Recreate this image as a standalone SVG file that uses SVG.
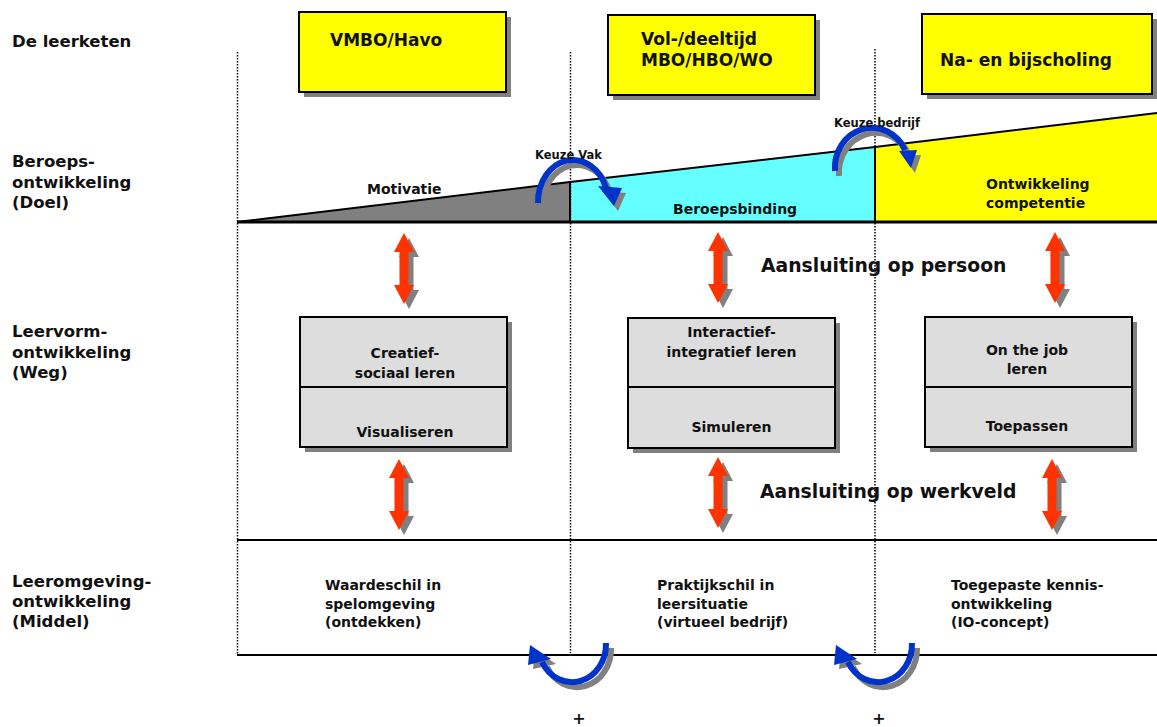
<svg xmlns="http://www.w3.org/2000/svg" xmlns:xlink="http://www.w3.org/1999/xlink" width="1157" height="727" viewBox="0 0 1157 727">
<style>
text{font-family:"DejaVu Sans","Liberation Sans",sans-serif;font-weight:bold;fill:#111}
.lbl{font-size:16.5px}
.top{font-size:17px}
.t14{font-size:14px}
.plus{font-size:16px}
.small{font-size:11.5px}
.big{font-size:18.8px}
.mid{text-anchor:middle}
.ybox{fill:#FFFF00;stroke:#000;stroke-width:2}
.gbox{fill:#DDDDDD;stroke:#000;stroke-width:2}
.shadow{fill:#808080}
.dot{stroke:#000;stroke-width:1.5;stroke-dasharray:1.5 1.5;fill:none}
.red{fill:#FF3300}
.barc{fill:none;stroke:#0033CC;stroke-width:6}
.sarc{fill:none;stroke:#808080;stroke-width:6}
.bhead{fill:#0033CC}
</style>
<defs>
<path id="dbl" d="M0,0 L10,19 L4.5,19 L4.5,52 L10,52 L0,71 L-10,52 L-4.5,52 L-4.5,19 L-10,19 Z"/>
</defs>
<rect width="1157" height="727" fill="#fff"/>

<g id="row-labels">
<text class="lbl" x="12" y="47">De leerketen</text>
<text class="lbl" x="12" y="167">Beroeps-</text>
<text class="lbl" x="12" y="188">ontwikkeling</text>
<text class="lbl" x="12" y="208">(Doel)</text>
<text class="lbl" x="12" y="337">Leervorm-</text>
<text class="lbl" x="12" y="357.5">ontwikkeling</text>
<text class="lbl" x="12" y="378">(Weg)</text>
<text class="lbl" x="12" y="587">Leeromgeving-</text>
<text class="lbl" x="12" y="607">ontwikkeling</text>
<text class="lbl" x="12" y="627">(Middel)</text>
</g>

<g id="band">
<polygon points="237,222 570,182 570,222" fill="#808080"/>
<polygon points="570,182 875,147 875,222 570,222" fill="#66FFFF"/>
<polygon points="875,147 1157,113 1157,222 875,222" fill="#FFFF00"/>
<polyline points="237,222 570,182 875,147 1157,113" fill="none" stroke="#000" stroke-width="2"/>
<line x1="570" y1="182" x2="570" y2="222" stroke="#000" stroke-width="2"/>
<line x1="875" y1="147" x2="875" y2="222" stroke="#000" stroke-width="2"/>
<line x1="237" y1="222" x2="1157" y2="222" stroke="#000" stroke-width="3"/>
<text class="t14" x="367" y="194">Motivatie</text>
<text class="t14" x="673" y="214">Beroepsbinding</text>
<text class="t14" x="986" y="189">Ontwikkeling</text>
<text class="t14" x="986" y="208">competentie</text>
</g>

<g id="bottom-box">
<line x1="237" y1="540" x2="1157" y2="540" stroke="#000" stroke-width="2"/>
<line x1="237" y1="655" x2="1157" y2="655" stroke="#000" stroke-width="2"/>
<text class="t14" x="325" y="590">Waardeschil in</text>
<text class="t14" x="325" y="609">spelomgeving</text>
<text class="t14" x="325" y="627">(ontdekken)</text>
<text class="t14" x="657" y="590">Praktijkschil in</text>
<text class="t14" x="657" y="609">leersituatie</text>
<text class="t14" x="657" y="627">(virtueel bedrijf)</text>
<text class="t14" x="951" y="590">Toegepaste kennis-</text>
<text class="t14" x="951" y="609">ontwikkeling</text>
<text class="t14" x="951" y="627">(IO-concept)</text>
</g>

<g id="dividers">
<line class="dot" x1="237.5" y1="52" x2="237.5" y2="655"/>
<line class="dot" x1="570.5" y1="52" x2="570.5" y2="653"/>
<line class="dot" x1="875" y1="49" x2="875" y2="653"/>
</g>

<g id="box-vmbo">
<rect class="shadow" x="304" y="17" width="207" height="80"/>
<rect class="ybox" x="299" y="12" width="207" height="80"/>
<text class="top" x="330" y="46">VMBO/Havo</text>
</g>
<g id="box-vol">
<rect class="shadow" x="613" y="20" width="207" height="80"/>
<rect class="ybox" x="608" y="15" width="207" height="80"/>
<text class="top" x="641" y="45">Vol-/deeltijd</text>
<text class="top" x="641" y="66">MBO/HBO/WO</text>
</g>
<g id="box-na">
<rect class="shadow" x="927" y="19" width="230" height="80"/>
<rect class="ybox" x="922" y="14" width="230" height="80"/>
<text class="top" x="940" y="66">Na- en bijscholing</text>
</g>

<g id="box-creatief">
<rect class="shadow" x="305" y="322" width="207" height="130"/>
<rect class="gbox" x="300" y="317" width="207" height="130"/>
<line x1="300" y1="387" x2="507" y2="387" stroke="#000" stroke-width="2"/>
<text class="t14 mid" x="405" y="358">Creatief-</text>
<text class="t14 mid" x="405" y="378">sociaal leren</text>
<text class="t14 mid" x="405" y="437">Visualiseren</text>
</g>
<g id="box-interactief">
<rect class="shadow" x="633" y="323" width="207" height="130"/>
<rect class="gbox" x="628" y="318" width="207" height="130"/>
<line x1="627" y1="387" x2="835" y2="387" stroke="#000" stroke-width="2"/>
<text class="t14 mid" x="731.5" y="337">Interactief-</text>
<text class="t14 mid" x="731.5" y="356.5">integratief leren</text>
<text class="t14 mid" x="731.5" y="432">Simuleren</text>
</g>
<g id="box-onthejob">
<rect class="shadow" x="930" y="322" width="207" height="130"/>
<rect class="gbox" x="925" y="317" width="207" height="130"/>
<line x1="925" y1="387" x2="1132" y2="387" stroke="#000" stroke-width="2"/>
<text class="t14 mid" x="1027" y="355">On the job</text>
<text class="t14 mid" x="1027" y="374">leren</text>
<text class="t14 mid" x="1027" y="431">Toepassen</text>
</g>

<g id="aansluiting">
<text class="big" x="761" y="272">Aansluiting op persoon</text>
<text class="big" x="760" y="498">Aansluiting op werkveld</text>
</g>

<g id="connectors">
<use href="#dbl" class="shadow" x="409" y="238"/>
<use href="#dbl" class="red" x="404" y="233"/>
<use href="#dbl" class="shadow" x="723" y="237"/>
<use href="#dbl" class="red" x="718" y="232"/>
<use href="#dbl" class="shadow" x="1060" y="237"/>
<use href="#dbl" class="red" x="1055" y="232"/>
<use href="#dbl" class="shadow" x="404" y="464"/>
<use href="#dbl" class="red" x="399" y="459"/>
<use href="#dbl" class="shadow" x="723" y="462"/>
<use href="#dbl" class="red" x="718" y="457"/>
<use href="#dbl" class="shadow" x="1057" y="464"/>
<use href="#dbl" class="red" x="1052" y="459"/>

<g id="keuze-vak">
<path class="sarc" d="M542,208 A35,42 0 0 1 610,193"/>
<polygon class="shadow" points="602,191 626,193 618,211"/>
<path class="barc" d="M538,203 A35,42 0 0 1 606,188"/>
<polygon class="bhead" points="598,186 622,188 614,206"/>
<text class="small" x="535" y="159">Keuze Vak</text>
</g>
<g id="keuze-bedrijf">
<path class="sarc" d="M839,176 A37,40 0 0 1 909,155"/>
<polygon class="shadow" points="903,156 921,155 915,173"/>
<path class="barc" d="M835,171 A37,40 0 0 1 905,150"/>
<polygon class="bhead" points="899,151 917,150 911,168"/>
<text class="small" x="834" y="127">Keuze bedrijf</text>
</g>
<g id="loop-1">
<path class="sarc" d="M611,648 A34,38 0 0 1 547,667"/>
<polygon class="shadow" points="535,650 533,669 556,664"/>
<path class="barc" d="M606,643 A34,38 0 0 1 542,662"/>
<polygon class="bhead" points="530,645 528,665 551,659"/>
</g>
<g id="loop-2">
<path class="sarc" d="M917,648 A34,38 0 0 1 853,667"/>
<polygon class="shadow" points="841,650 839,669 862,664"/>
<path class="barc" d="M912,643 A34,38 0 0 1 848,662"/>
<polygon class="bhead" points="836,645 834,665 857,659"/>
</g>
</g>

<g id="plus-signs">
<text class="plus mid" x="579" y="724">+</text>
<text class="plus mid" x="879" y="724">+</text>
</g>
</svg>
